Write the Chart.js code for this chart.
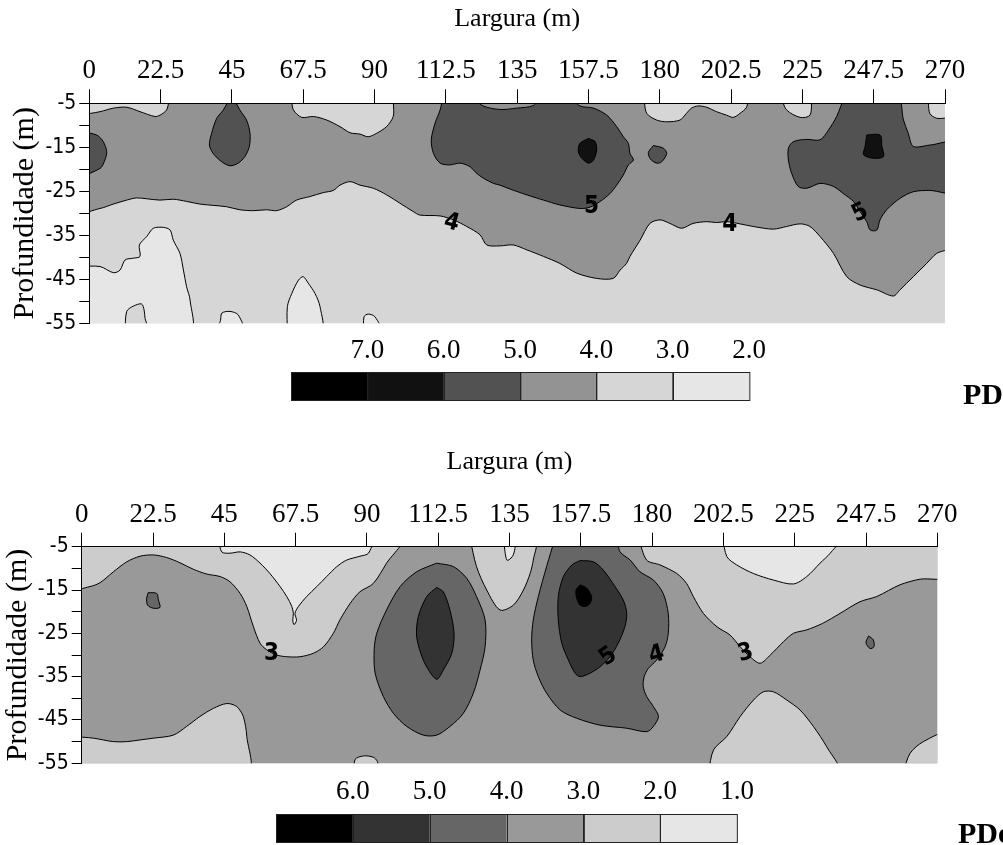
<!DOCTYPE html>
<html>
<head>
<meta charset="utf-8">
<script src="https://cdn.jsdelivr.net/npm/chart.js@4.4.0/dist/chart.umd.min.js"></script>
<style>
  body { margin: 0; background: #fff; width: 1003px; height: 845px; overflow: hidden; position: relative; }
  .panel { position: absolute; left: 0; width: 1003px; }
</style>
</head>
<body>
<div class="panel" style="top:0;height:420px"><canvas id="pd"></canvas></div>
<div class="panel" style="top:420px;height:425px"><canvas id="pde"></canvas></div>
<script>
// axes
const widthTicks = [0, 22.5, 45, 67.5, 90, 112.5, 135, 157.5, 180, 202.5, 225, 247.5, 270];
const depthTicks = [-55, -50, -45, -40, -35, -30, -25, -20, -15, -10, -5];
const depthLabels = [-5, -15, -25, -35, -45, -55];

// colour bar labels
const pdLevels = ['7.0', '6.0', '5.0', '4.0', '3.0', '2.0'];
const pdeLevels = ['6.0', '5.0', '4.0', '3.0', '2.0', '1.0'];

// ---- PD: contour regions [largura, profundidade]
const pdBand4 = [
  [0,-7.7],[3.4,-6.9],[7.6,-6.1],[11.8,-5.9],[16.0,-6.9],[20.7,-8.0],[22.3,-7.7],[24.4,-6.5],[26.3,-5],
  [62.8,-5],[64.4,-6.5],[67.0,-8.2],[70.7,-8.0],[74.9,-8.8],[79.1,-10.3],[82.3,-11.7],[85.4,-12.0],[88.0,-12.6],[90.7,-11.8],[93.8,-10.3],[95.9,-8.0],[97.0,-5],
  [173.8,-5],[175.9,-7.3],[179.0,-8.8],[182.2,-9.2],[186.4,-8.8],[188.4,-7.3],[190.0,-6.1],[192.1,-5.6],[194.8,-5.9],[197.9,-6.9],[201.1,-7.7],[203.2,-8.2],[205.3,-7.3],[207.4,-5.9],[208.4,-5],
  [217.4,-5],[220.0,-6.5],[224.3,-8.2],[227.4,-7.7],[229.0,-5],
  [263.7,-5],[265.2,-7.3],[267.4,-8.4],[270,-8.8],
  [270,-37.2],[267.4,-39.1],[264.2,-41.4],[260.0,-44.4],[255.8,-47.4],[253.7,-48.8],[248.5,-47.4],[243.2,-46.3],[239.0,-44.4],[234.8,-39.1],[230.6,-35.3],[227.4,-33.0],[224.3,-32.4],[220.0,-33.0],[215.8,-33.6],[209.5,-33.0],[205.3,-32.4],[201.1,-31.9],[197.9,-32.1],[194.8,-31.9],[190.5,-32.3],[186.9,-33.4],[183.2,-32.3],[180.1,-31.5],[176.9,-32.3],[173.8,-36.1],[170.6,-39.8],[169.5,-41.4],[167.5,-42.9],[165.3,-44.8],[160.1,-44.8],[153.8,-43.6],[148.5,-41.4],[143.3,-39.8],[138.0,-38.3],[133.8,-37.2],[129.6,-37.4],
  [125.4,-37.2],[123.3,-34.9],[119.1,-33.0],[114.9,-31.5],[110.7,-30.6],[104.3,-30.4],[102.2,-29.6],[98.0,-27.7],[93.8,-25.8],[89.6,-24.3],[85.4,-23.6],[82.3,-22.8],[79.1,-23.6],[77.0,-24.8],[73.8,-25.3],[69.6,-26.2],[65.4,-27.0],[62.3,-28.5],[59.1,-29.4],[55.9,-29.2],[51.8,-29.4],[47.5,-29.2],[43.3,-28.5],[39.1,-28.2],[34.9,-27.9],[30.7,-27.3],[26.5,-26.8],[22.3,-27.0],[18.1,-26.7],[14.9,-26.5],[11.8,-27.0],[7.6,-27.9],[3.4,-28.9],[0,-29.4]
];
const pdLow1 = [[0,-42.1],[3.4,-42.1],[7.6,-43.5],[9.7,-42.9],[11.3,-40.6],[13.9,-40.2],[16.0,-39.8],[15.8,-37.2],[18.1,-35.3],[20.2,-33.4],[23.4,-33.2],[25.5,-33.8],[26.5,-36.1],[28.6,-39.1],[29.7,-42.9],[30.7,-46.7],[31.8,-49.7],[31.8,-55],[0,-55]];
const pdLow1Notch = [[11.3,-55],[11.8,-52.3],[13.9,-51.1],[16.5,-50.6],[17.3,-52.0],[17.6,-53.9],[18.6,-55]];
const pdLow2 = [[37.6,-55],[41.2,-54.8],[41.8,-52.7],[44.4,-52.3],[47.0,-53.1],[48.6,-55]];
const pdLow3 = [[62.5,-55],[62.5,-51.2],[63.9,-48.2],[66.0,-45.2],[67.5,-44.4],[69.1,-45.9],[71.2,-48.2],[72.8,-51.2],[73.3,-55]];
const pdLow4 = [[86.5,-55],[86.7,-53.5],[88.0,-52.9],[90.1,-53.5],[92.3,-55]];
const pdHigh1 = [[0,-11.4],[2.3,-12.2],[4.4,-13.7],[5.5,-16.0],[4.9,-17.9],[3.4,-19.8],[0,-21.1]];
const pdHigh2 = [[44.9,-5],[47.5,-6.5],[49.6,-8.8],[50.7,-11.8],[50.5,-14.8],[49.1,-17.1],[47.0,-18.6],[44.4,-19.2],[41.8,-18.3],[39.1,-16.4],[37.9,-14.5],[38.6,-11.8],[40.2,-8.4],[42.3,-6.5]];
const pdHigh3 = [[111.7,-5],[119.1,-5],[124.3,-5.6],[129.6,-6.4],[134.8,-6.1],[140.1,-5.5],[143.3,-5],[150.6,-5],[154.8,-5.6],[159.1,-6.1],[163.3,-7.7],[166.4,-10.3],[168.5,-12.6],[170.1,-14.1],[170.6,-16.4],[171.7,-17.9],[170.1,-19.0],[168.5,-21.3],[166.4,-23.6],[164.3,-25.5],[161.2,-27.3],[158.0,-28.6],[154.8,-28.9],[148.5,-28.1],[143.3,-27.0],[138.0,-25.8],[132.8,-24.5],[129.6,-23.6],[127.5,-23.2],[124.3,-22.0],[122.2,-20.9],[120.1,-19.4],[117.0,-18.6],[113.8,-19.0],[110.7,-18.6],[108.6,-16.4],[107.9,-13.3],[109.1,-9.5],[110.7,-6.5]];
const pdHigh4 = [[178.0,-14.6],[181.1,-15.2],[182.2,-16.4],[180.6,-18.3],[179.0,-18.6],[177.1,-17.7],[176.4,-16.2]];
const pdHigh5 = [[238.5,-5],[235.8,-8.0],[233.2,-11.1],[230.6,-13.3],[226.4,-13.2],[222.2,-13.7],[220.6,-15.2],[220.6,-17.9],[221.6,-20.9],[223.7,-23.9],[226.4,-24.3],[230.6,-23.2],[234.8,-23.9],[237.9,-25.5],[241.1,-27.3],[243.2,-29.6],[245.3,-31.9],[246.4,-33.8],[248.5,-33.8],[249.5,-31.5],[251.6,-29.2],[255.8,-26.6],[260.0,-25.1],[265.2,-24.8],[270,-25.1],[270,-14.1],[265.2,-14.5],[260.0,-14.8],[258.4,-11.8],[256.9,-8.8],[254.8,-5]];
const pdPeak1 = [[157.5,-13.0],[159.6,-13.7],[160.1,-15.6],[159.1,-17.9],[157.5,-18.6],[155.4,-17.5],[154.3,-16.0],[154.8,-14.1]];
const pdPeak2 = [[245.3,-12.2],[249.5,-12.2],[250.1,-14.8],[250.6,-17.1],[247.4,-17.5],[244.3,-16.7],[244.8,-14.8]];
const pdLabels = [[114.3,-32.2,'4'],[158.5,-28.6,'5'],[202.1,-32.7,'4'],[243.2,-30.0,'5']];

// ---- PDe: contour regions
const pdeBand2a = [[0,-5],[0,-14.6],[2.6,-14.2],[5.8,-13.3],[10.0,-10.8],[14.2,-8.5],[18.4,-7.2],[22.6,-6.9],[26.8,-7.5],[31.0,-8.7],[35.2,-10.2],[39.4,-11.3],[43.7,-11.9],[46.8,-13.1],[50.0,-15.8],[52.1,-18.8],[54.2,-23.5],[56.3,-27.3],[58.4,-28.8],[61.5,-30.0],[64.7,-30.4],[68.9,-30.4],[73.1,-29.6],[76.3,-28.1],[79.4,-25.0],[81.5,-21.9],[84.7,-18.1],[87.8,-15.4],[92.0,-13.5],[96.2,-8.8],[101.0,-5]];
const pdeBand2b = [[122.5,-5],[124.6,-9.6],[127.8,-15.0],[132.0,-19.6],[136.2,-18.5],[139.4,-15.0],[141.5,-11.2],[142.5,-8.1],[143.1,-5]];
const pdeBand2c = [[175.7,-5],[178.3,-8.1],[182.5,-9.2],[187.8,-11.2],[190.9,-13.5],[193.0,-16.5],[196.2,-20.4],[200.5,-23.5],[204.6,-25.4],[207.8,-28.1],[210.9,-30.4],[214.1,-31.9],[217.3,-30.0],[221.5,-26.9],[224.6,-25.0],[228.8,-24.2],[233.8,-22.7],[239.3,-20.4],[245.6,-17.7],[250.9,-16.5],[258.2,-13.8],[264.6,-12.5],[270,-11.9],[270,-5]];
const pdeBand2d = [[0,-48.8],[3.7,-49.2],[10.0,-50.0],[14.2,-50.0],[18.4,-49.6],[22.6,-49.2],[28.9,-48.5],[33.1,-46.5],[37.3,-44.2],[41.6,-42.3],[45.8,-41.2],[48.9,-41.9],[51.0,-44.2],[52.1,-48.8],[52.3,-55],[0,-55]];
const pdeBand2e = [[85.9,-55],[86.3,-54.1],[88.9,-53.3],[92.0,-53.6],[93.3,-54.6],[93.5,-55]];
const pdeBand2f = [[197.8,-55],[199.4,-51.9],[203.6,-48.8],[207.8,-44.2],[212.0,-40.4],[215.1,-38.5],[218.3,-38.5],[222.5,-40.4],[226.7,-42.7],[230.9,-46.5],[235.1,-51.2],[238.8,-55]];
const pdeBand2g = [[259.3,-55],[261.4,-52.7],[265.6,-50.0],[270,-48.1],[270,-55]];
const pdeBand1a = [[43.1,-5],[44.2,-6.2],[46.8,-6.5],[50.0,-6.2],[53.1,-6.9],[56.3,-8.8],[59.4,-11.2],[62.6,-14.2],[64.7,-16.5],[66.3,-18.8],[66.8,-20.4],[66.6,-21.9],[67.0,-23.0],[67.8,-22.0],[67.3,-20.4],[68.4,-18.8],[71.0,-16.5],[74.2,-14.2],[77.3,-11.9],[80.5,-9.6],[83.6,-8.1],[87.8,-7.2],[90.5,-6.5],[91.5,-5]];
const pdeBand1b = [[133.1,-5],[134.2,-8.1],[136.2,-6.9],[136.7,-5]];
const pdeBand1c = [[202.3,-5],[203.6,-7.3],[206.7,-9.2],[212.0,-11.2],[218.3,-12.7],[224.6,-13.6],[228.8,-11.9],[233.0,-8.8],[236.2,-6.5],[239.3,-5]];
const pdeBand4a = [[112.0,-8.8],[117.3,-9.6],[121.5,-12.3],[124.6,-16.5],[127.3,-21.9],[127.3,-28.1],[125.7,-33.5],[123.6,-38.8],[120.4,-43.5],[116.2,-46.5],[112.0,-48.5],[107.8,-48.5],[102.6,-46.5],[98.4,-43.5],[95.2,-39.6],[92.6,-34.2],[92.3,-28.8],[93.1,-25.0],[96.2,-19.6],[100.5,-14.2],[105.7,-10.8]];
const pdeBand4b = [[149.4,-5],[146.7,-9.6],[144.1,-16.5],[142.5,-21.9],[142.0,-26.5],[142.5,-31.2],[144.1,-35.0],[146.7,-38.8],[151.0,-42.7],[156.2,-44.6],[163.6,-46.2],[172.0,-46.9],[178.3,-47.7],[180.4,-46.5],[182.0,-44.2],[180.4,-41.9],[178.3,-39.6],[177.2,-37.3],[177.5,-35.0],[178.8,-33.1],[181.4,-31.2],[184.1,-28.1],[185.1,-25.0],[185.1,-20.4],[183.5,-15.8],[180.4,-12.7],[176.2,-10.8],[173.1,-8.1],[169.9,-6.2],[168.3,-5]];
const pdeBand4c = [[21.0,-15.6],[23.7,-15.8],[24.2,-17.3],[24.7,-19.0],[22.6,-19.2],[20.8,-18.5],[20.5,-16.9]];
const pdeBand4d = [[248.3,-25.6],[249.8,-26.5],[250.0,-28.1],[248.8,-28.5],[247.5,-27.2]];
const pdeBand5a = [[112.0,-14.4],[114.1,-15.4],[116.2,-19.6],[117.5,-25.0],[116.8,-29.6],[114.1,-33.5],[112.2,-35.6],[110.5,-34.6],[107.8,-31.2],[105.7,-25.8],[106.2,-21.2],[108.9,-16.5]];
const pdeBand5b = [[157.3,-8.2],[161.5,-8.5],[164.6,-10.4],[168.3,-14.2],[170.9,-17.3],[172.0,-20.4],[171.4,-23.5],[169.3,-27.3],[166.7,-30.4],[163.6,-32.7],[160.4,-34.2],[157.3,-35.0],[155.7,-34.2],[153.6,-31.2],[151.5,-27.3],[150.4,-21.9],[150.4,-16.5],[152.0,-11.9],[154.7,-9.2]];
const pdePeak = [[157.3,-13.8],[159.4,-14.6],[160.9,-16.5],[160.4,-18.1],[158.9,-18.8],[157.3,-18.5],[156.2,-16.9],[156.0,-15.0]];
const pdeLabels = [[59.9,-29.6,'3'],[166.2,-30.4,'5'],[181.4,-30.0,'4'],[209.5,-29.6,'3']];

// ---- styling
const pdColors = ['#000000', '#111111', '#525252', '#939393', '#d6d6d6', '#e6e6e6'];
const pdeColors = ['#000000', '#333333', '#666666', '#999999', '#cccccc', '#e6e6e6'];

const pdLayers = [
  [pdBand4, pdColors[3]],
  [pdLow1, pdColors[5]], [pdLow1Notch, pdColors[4]], [pdLow2, pdColors[5]], [pdLow3, pdColors[5]], [pdLow4, pdColors[5]],
  [pdHigh1, pdColors[2]], [pdHigh2, pdColors[2]], [pdHigh3, pdColors[2]], [pdHigh4, pdColors[2]], [pdHigh5, pdColors[2]],
  [pdPeak1, pdColors[1]], [pdPeak2, pdColors[1]]
];
const pdeLayers = [
  [pdeBand2a, pdeColors[4]], [pdeBand2b, pdeColors[4]], [pdeBand2c, pdeColors[4]], [pdeBand2d, pdeColors[4]],
  [pdeBand2e, pdeColors[4]], [pdeBand2f, pdeColors[4]], [pdeBand2g, pdeColors[4]],
  [pdeBand1a, pdeColors[5]], [pdeBand1b, pdeColors[5]], [pdeBand1c, pdeColors[5]],
  [pdeBand4a, pdeColors[2]], [pdeBand4b, pdeColors[2]], [pdeBand4c, pdeColors[2]], [pdeBand4d, pdeColors[2]],
  [pdeBand5a, pdeColors[1]], [pdeBand5b, pdeColors[1]],
  [pdePeak, pdeColors[0]]
];

const SERIF = '"Liberation Serif", "Times New Roman", serif';
const NARROW = '"Liberation Sans Narrow", "DejaVu Sans Condensed", sans-serif';

// points lying on the frame are pushed just outside it so that their
// stroke is clipped away and only the inner contour lines show
function ring(pts) {
  return pts.concat([pts[0]]).map(([x, y]) => ({
    x: x <= 0 ? -3 : x >= 270 ? 273 : x,
    y: y >= -5 ? -3 : y <= -55 ? -57 : y
  }));
}

const plotBg = {
  id: 'plotBg',
  beforeDatasetsDraw(chart, args, o) {
    const {ctx, chartArea: a} = chart;
    ctx.save();
    ctx.fillStyle = o.color;
    ctx.fillRect(a.left, a.top, a.right - a.left, a.bottom - a.top);
    ctx.restore();
  }
};

const contourText = {
  id: 'contourText',
  afterDatasetsDraw(chart, args, o) {
    const {ctx, scales: {x, y}} = chart;
    ctx.save();
    ctx.font = 'bold 24px ' + NARROW;
    ctx.fillStyle = '#000';
    ctx.textAlign = 'center';
    ctx.textBaseline = 'middle';
    o.items.forEach((it, i) => {
      ctx.save();
      ctx.translate(x.getPixelForValue(it[0]), y.getPixelForValue(it[1]));
      ctx.rotate((o.rot[i] || 0) * Math.PI / 180);
      ctx.fillText(it[2], 0, 0);
      ctx.restore();
    });
    ctx.restore();
  }
};

const scaleBar = {
  id: 'scaleBar',
  afterDraw(chart, args, o) {
    const ctx = chart.ctx;
    const w = (o.x1 - o.x0) / o.colors.length;
    ctx.save();
    o.colors.forEach((c, i) => {
      ctx.fillStyle = c;
      ctx.fillRect(o.x0 + i * w, o.y, w, o.h);
    });
    ctx.strokeStyle = '#222';
    ctx.lineWidth = 1;
    o.colors.forEach((c, i) => ctx.strokeRect(Math.round(o.x0 + i * w) + 0.5, o.y + 0.5, w, o.h));
    ctx.fillStyle = '#000';
    ctx.font = '27px ' + SERIF;
    ctx.textAlign = 'center';
    ctx.textBaseline = 'middle';
    o.labels.forEach((t, i) => ctx.fillText(t, o.x0 + (i + 1) * w, o.labelY));
    ctx.font = 'bold 30px ' + SERIF;
    ctx.textAlign = 'left';
    ctx.textBaseline = 'alphabetic';
    ctx.fillText(o.name, o.nameX, o.nameY);
    ctx.restore();
  }
};

function contourChart(id, layers, background, labels, rot, pad, bar) {
  return new Chart(document.getElementById(id), {
    type: 'scatter',
    plugins: [plotBg, contourText, scaleBar],
    data: {
      datasets: layers.map(([pts, color], i) => ({
        data: ring(pts),
        showLine: true,
        fill: 'shape',
        backgroundColor: color,
        borderColor: '#000',
        borderWidth: 1,
        pointRadius: 0,
        pointHoverRadius: 0,
        tension: 0.3,
        clip: 0,
        order: layers.length - i
      }))
    },
    options: {
      responsive: true,
      maintainAspectRatio: false,
      animation: false,
      events: [],
      layout: { padding: pad },
      plugins: {
        legend: { display: false },
        tooltip: { enabled: false },
        plotBg: { color: background },
        contourText: { items: labels, rot: rot },
        scaleBar: bar
      },
      scales: {
        x: {
          type: 'linear',
          position: 'top',
          min: 0,
          max: 270,
          afterBuildTicks: s => { s.ticks = widthTicks.map(v => ({ value: v })); },
          afterFit: s => { s.height = 103.3; },
          ticks: { autoSkip: false, maxRotation: 0, padding: 2, color: '#000',
                   font: { family: SERIF, size: 27 }, callback: v => String(v) },
          grid: { drawOnChartArea: false, tickLength: 14, color: '#000', z: 1 },
          border: { color: '#000', width: 1, z: 1 },
          title: { display: true, text: 'Largura (m)', color: '#000',
                   font: { family: SERIF, size: 26 }, padding: { top: 3.4, bottom: 0 } }
        },
        y: {
          type: 'linear',
          min: -55,
          max: -5,
          afterBuildTicks: s => { s.ticks = depthTicks.map(v => ({ value: v })); },
          afterFit: s => { s.width = 81.7; },
          ticks: { autoSkip: false, padding: 3, color: '#000',
                   font: { family: NARROW, size: 21 },
                   callback: v => depthLabels.includes(v) ? String(v) : '' },
          grid: { drawOnChartArea: false, tickLength: 10, color: '#000', z: 1 },
          border: { color: '#000', width: 1, z: 1 },
          title: { display: true, text: 'Profundidade (m)', color: '#000',
                   font: { family: SERIF, size: 30 }, padding: { top: 0, bottom: 0 } }
        }
      }
    }
  });
}

contourChart('pd', pdLayers, pdColors[4], pdLabels, [15, 0, 0, -25],
  { left: 7.6, top: 0, right: 58, bottom: 96.7 },
  { colors: pdColors, labels: pdLevels, x0: 291, x1: 749, y: 372, h: 28, labelY: 351,
    name: 'PD', nameX: 963, nameY: 404 });

contourChart('pde', pdeLayers, pdeColors[3], pdeLabels, [0, -35, -15, -15],
  { left: 0, top: 23.4, right: 65.7, bottom: 81.7 },
  { colors: pdeColors, labels: pdeLevels, x0: 276, x1: 737, y: 394, h: 28, labelY: 372,
    name: 'PDe', nameX: 958, nameY: 423 });
</script>
</body>
</html>
